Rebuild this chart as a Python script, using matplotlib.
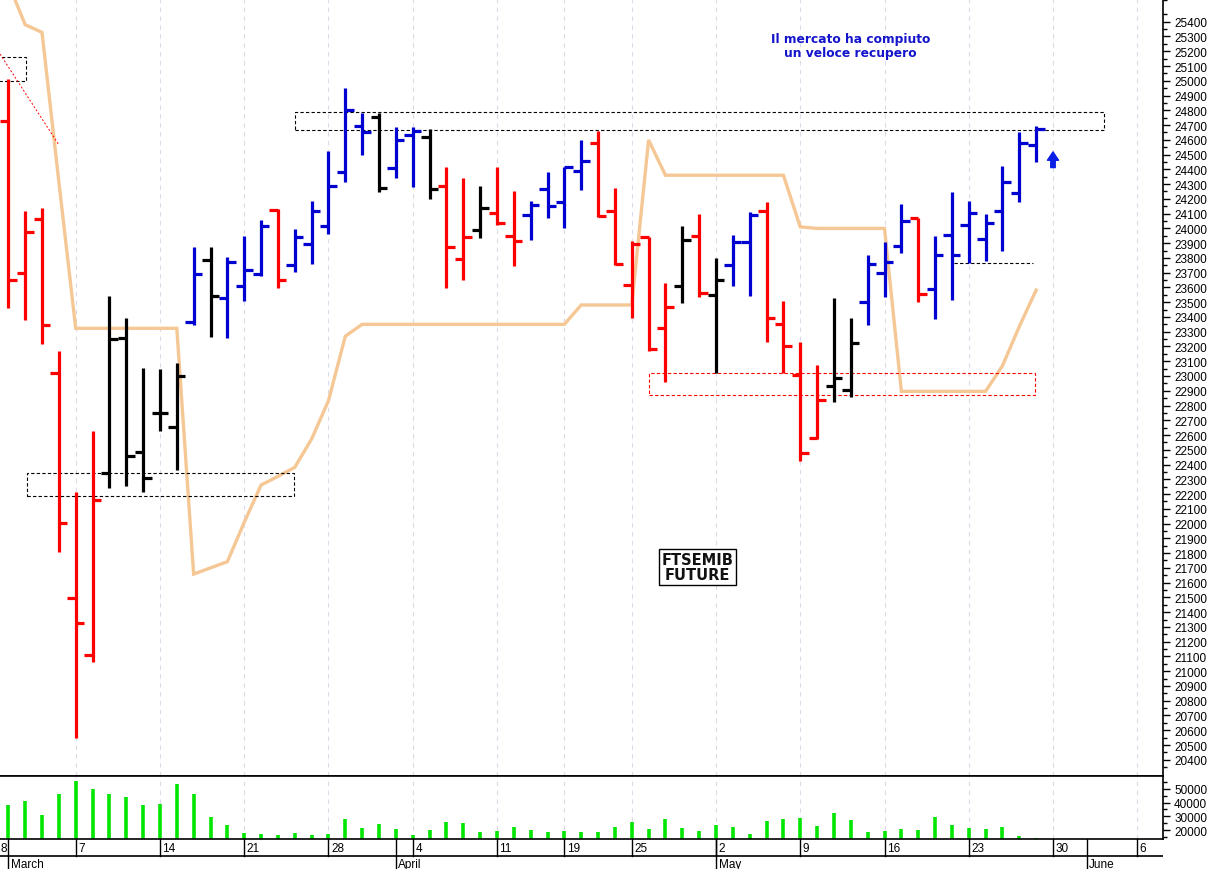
import numpy as np
import matplotlib.pyplot as plt
from matplotlib.patches import Rectangle

# trading days shown (2022), one bar each
dates = ['01/03', '02/03', '03/03', '04/03', '07/03', '08/03', '09/03', '10/03', '11/03',
         '14/03', '15/03', '16/03', '17/03', '18/03', '21/03', '22/03', '23/03', '24/03',
         '25/03', '28/03', '29/03', '30/03', '31/03', '01/04', '04/04', '05/04', '06/04',
         '07/04', '08/04', '11/04', '12/04', '13/04', '14/04', '19/04', '20/04', '21/04',
         '22/04', '25/04', '26/04', '27/04', '28/04', '29/04', '02/05', '03/05', '04/05',
         '05/05', '06/05', '09/05', '10/05', '11/05', '12/05', '13/05', '16/05', '17/05',
         '18/05', '19/05', '20/05', '23/05', '24/05', '25/05', '26/05', '27/05']

opens = [24725, 23698, 24063, 23020, 21494, 21110, 22340, 23260, 22487, 22749, 22652,
         23363, 23786, 23528, 23612, 23689, 24126, 23754, 23891, 24018, 24380, 24695,
         24752, 24407, 24632, 24617, 24285, 23792, 23989, 24104, 23950, 24093, 24267,
         24176, 24386, 24578, 24115, 23616, 23943, 23325, 23607, 23950, 23550, 23751,
         23910, 24115, 23352, 23008, 22580, 22934, 22905, 23503, 23697, 23878, 24070,
         23589, 23955, 24022, 23925, 24115, 24237, 24564]
highs = [25012, 24115, 24136, 23171, 22212, 22625, 23544, 23390, 23052, 23047, 23085,
         23872, 23872, 23808, 23946, 24059, 24131, 23995, 24185, 24522, 24949, 24779,
         24779, 24689, 24689, 24673, 24418, 24341, 24289, 24414, 24251, 24183, 24380,
         24418, 24601, 24657, 24271, 23916, 23943, 23627, 24014, 24097, 23797, 23955,
         24113, 24176, 23506, 23228, 23076, 23526, 23390, 23820, 23910, 24165, 24070,
         23950, 24244, 24183, 24097, 24420, 24650, 24691]
lows = [23459, 23381, 23216, 21805, 20547, 21060, 22243, 22257, 22212, 22625, 22362,
        23345, 23266, 23257, 23506, 23675, 23596, 23702, 23758, 23962, 24312, 24497,
        24244, 24340, 24278, 24199, 23596, 23652, 23934, 24025, 23747, 23923, 24068,
        24002, 24260, 24079, 23754, 23390, 23171, 22957, 23492, 23533, 23020, 23607,
        23544, 23232, 23020, 22426, 22573, 22826, 22860, 23345, 23533, 23833, 23503,
        23386, 23513, 23765, 23781, 23844, 24176, 24452]
closes = [23650, 23973, 23345, 22004, 21324, 22162, 23250, 22455, 22307, 22749, 22998,
          23689, 23544, 23770, 23718, 24014, 23650, 23939, 24115, 24289, 24802, 24655,
          24275, 24596, 24657, 24265, 23872, 23939, 24138, 24036, 23912, 24158, 24150,
          24418, 24458, 24086, 23758, 23891, 23183, 23465, 23921, 23562, 23650, 23910,
          24090, 23393, 23201, 22476, 22837, 22986, 23221, 23758, 23770, 24048, 23555,
          23820, 23820, 24101, 24036, 24312, 24578, 24673]
trend = ['r', 'r', 'r', 'r', 'r', 'r', 'k', 'k', 'k', 'k', 'k', 'b', 'k', 'b', 'b', 'b',
         'r', 'b', 'b', 'b', 'b', 'b', 'k', 'b', 'b', 'k', 'r', 'r', 'k', 'r', 'r', 'b',
         'b', 'b', 'b', 'r', 'r', 'r', 'r', 'r', 'k', 'r', 'k', 'b', 'b', 'r', 'r', 'r',
         'r', 'k', 'k', 'b', 'b', 'b', 'r', 'b', 'b', 'b', 'b', 'b', 'b', 'b']

# orange line
line_vals = [25660, 25380, 25328, 24316, 23323, 23323, 23323, 23323, 23323, 23323, 23323,
             21658, 21700, 21742, 22008, 22261, 22320, 22381, 22573, 22832, 23269, 23350,
             23350, 23350, 23350, 23350, 23350, 23350, 23350, 23350, 23350, 23350, 23350,
             23350, 23481, 23481, 23481, 23481, 24599, 24360, 24360, 24360, 24360, 24360,
             24360, 24360, 24360, 24010, 24000, 24000, 24000, 24000, 24000, 22896, 22896,
             22896, 22896, 22896, 22896, 23069, 23335, 23582]

volumes = [38560, 40940, 30710, 46420, 55940, 49750, 46420, 44280, 38330, 39040, 53560,
           45940, 29280, 23570, 17860, 16910, 16430, 17620, 16670, 17140, 27850, 21900,
           24280, 21190, 16430, 20480, 25950, 25240, 18570, 19050, 22620, 20240, 18570,
           19520, 18570, 18330, 22620, 25710, 21190, 27850, 21900, 19290, 23570, 22620,
           17140, 26660, 27850, 29040, 22860, 32610, 27140, 18330, 19520, 21190, 20000,
           29760, 23570, 21670, 20710, 22620, 15480, 14290]

# date strip: first trading day of each week / month (index in the trading-day axis)
week_pos = [-1, 4, 9, 14, 19, 24, 29, 33, 37, 42, 47, 52, 57, 62, 67]
week_labels = ['28', '7', '14', '21', '28', '4', '11', '19', '25', '2', '9', '16', '23', '30', '6']
month_pos = [0, 23, 42, 64]
month_labels = ['March', 'April', 'May', 'June']

RED, BLUE, BLACK = '#ff0000', '#0000d0', '#000000'
cmap = {'r': RED, 'b': BLUE, 'k': BLACK}
ORANGE = '#f5c794'
GRID = '#dadaea'
TICKFONT = 'Liberation Sans'

W, H = 1211, 870
fig = plt.figure(figsize=(W / 100, H / 100), dpi=100)
right = 1163 / W
ax = fig.add_axes([0, 1 - 777 / H, right, 777 / H])
axv = fig.add_axes([0, 1 - 840 / H, right, 63 / H])
axd = fig.add_axes([0, 0, right, 30 / H])

x = np.arange(len(dates))
xlim = (-8.3 / 16.85, (1163 - 8.3) / 16.85)
cols = [cmap[c] for c in trend]

# price panel
for g in week_pos:
    ax.axvline(g, color=GRID, lw=0.8, ls=(0, (4, 4)), zorder=0)
    axv.axvline(g, color=GRID, lw=0.8, ls=(0, (4, 4)), zorder=0)

ax.plot(x, line_vals, color=ORANGE, lw=2.4, solid_joinstyle='miter', zorder=1)
ax.vlines(x, lows, highs, colors=cols, lw=2.3, zorder=3)
ax.hlines(opens, x - 0.5, x, colors=cols, lw=2.3, zorder=3)
ax.hlines(closes, x, x + 0.5, colors=cols, lw=2.3, zorder=3)

dash = (0, (3, 2))
for (x0, x1, y0, y1, c) in [(-0.6, 1.03, 25000, 25159, 'k'),
                            (17.0, 65.0, 24666, 24786, 'k'),
                            (1.09, 16.97, 22189, 22340, 'k'),
                            (38.04, 60.95, 22871, 23018, RED)]:
    ax.add_patch(Rectangle((x0, y0), x1 - x0, y1 - y0, fill=False, ec=c, lw=0.8,
                           ls=dash, zorder=2))
ax.plot([56.1, 60.8], [23763, 23763], color='k', lw=0.8, ls=dash, zorder=2)
ax.plot([-0.49, 2.97], [25181, 24571], color=RED, lw=0.7, ls=(0, (2, 2)), zorder=2)

ax.annotate('', xy=(62, 24518), xytext=(62, 24412),
            arrowprops=dict(arrowstyle='simple,head_width=1.0,head_length=0.75,tail_width=0.4',
                            color='#0a1ee6', mutation_scale=8, shrinkA=0, shrinkB=0))

ax.text(50.0, 25238, 'Il mercato ha compiuto\nun veloce recupero', ha='center', va='center',
        fontsize=8.8, fontweight='bold', color='#1414cc', family='DejaVu Sans',
        linespacing=1.15)
ax.text(40.9, 21706, 'FTSEMIB\nFUTURE', ha='center', va='center', fontsize=10.5,
        fontweight='bold', color='#111111', family='DejaVu Sans', linespacing=1.0,
        bbox=dict(boxstyle='square,pad=0.2', fc='white', ec='black', lw=1))

ax.set_xlim(*xlim)
ax.set_ylim(20290, 25554)
ax.set_xticks([])
ax.yaxis.tick_right()
ax.set_yticks(np.arange(20400, 25401, 100))
ax.set_yticks(np.arange(20350, 25551, 100), minor=True)
ax.tick_params(axis='y', which='major', length=5, width=1, pad=3, labelsize=8.5)
ax.tick_params(axis='y', which='minor', length=3, width=1)
for lab in ax.get_yticklabels():
    lab.set_family(TICKFONT)
for s in ['left', 'top']:
    ax.spines[s].set_visible(False)
ax.spines['right'].set_linewidth(1.2)
ax.spines['bottom'].set_linewidth(1.2)

# volume panel
axv.vlines(x, 0, volumes, colors='#00e600', lw=2.6, zorder=2)
axv.set_xlim(*xlim)
axv.set_ylim(13600, 59300)
axv.set_xticks([])
axv.yaxis.tick_right()
axv.set_yticks([20000, 30000, 40000, 50000])
axv.set_yticks([15000, 25000, 35000, 45000, 55000], minor=True)
axv.tick_params(axis='y', which='major', length=5, width=1, pad=3, labelsize=8.5)
axv.tick_params(axis='y', which='minor', length=3, width=1)
for lab in axv.get_yticklabels():
    lab.set_family(TICKFONT)
axv.spines['left'].set_visible(False)
for s in ['right', 'top', 'bottom']:
    axv.spines[s].set_linewidth(1.2)

# date strip
axd.set_xlim(*xlim)
axd.set_ylim(0, 1)
axd.axis('off')
axd.axhline(0.43, color='k', lw=1.2)
for p, lab in zip(week_pos, week_labels):
    axd.plot([p, p], [0.43, 1], color='k', lw=1)
    if p < xlim[0]:
        # week that started before the visible range: only its tail shows
        axd.text(xlim[0] + 0.05, 0.70, lab[-1], ha='left', va='center', fontsize=8.5,
                 family=TICKFONT)
    else:
        axd.text(p + 0.15, 0.70, lab, ha='left', va='center', fontsize=8.5,
                 family=TICKFONT)
for p, lab in zip(month_pos, month_labels):
    axd.plot([p, p], [0, 1], color='k', lw=1)
    axd.text(p + 0.15, 0.18, lab, ha='left', va='center', fontsize=8.5,
             family=TICKFONT)

fig.savefig('out.png', dpi=100)
